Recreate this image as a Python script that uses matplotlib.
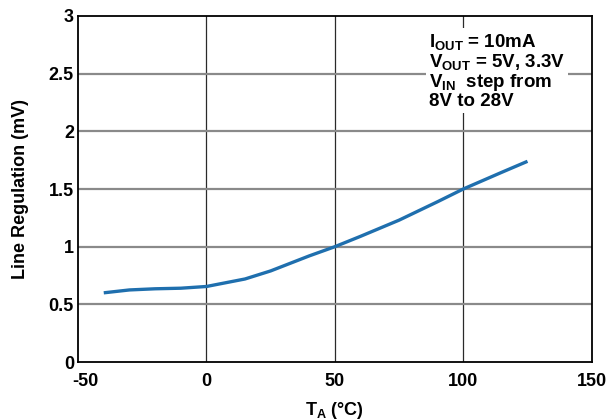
import matplotlib.pyplot as plt
import matplotlib.transforms as mtransforms

plt.rcParams['font.family'] = ['Liberation Sans', 'DejaVu Sans']
plt.rcParams['font.weight'] = 'bold'
plt.rcParams['axes.unicode_minus'] = False
plt.rcParams['mathtext.fontset'] = 'custom'
plt.rcParams['mathtext.rm'] = 'Liberation Sans:bold'
plt.rcParams['mathtext.it'] = 'Liberation Sans:bold'
plt.rcParams['mathtext.bf'] = 'Liberation Sans:bold'

# line regulation vs ambient temperature
temp = [-40, -30, -20, -10, 0, 15, 25, 40, 50, 60, 75, 90, 100, 115, 125]
line_reg = [0.60, 0.625, 0.635, 0.64, 0.655, 0.72, 0.79, 0.92, 1.0, 1.09, 1.23, 1.39, 1.50, 1.645, 1.74]

xticks = [-50, 0, 50, 100, 150]
yticks = [0, 0.5, 1, 1.5, 2, 2.5, 3]
ytick_labels = ['0', '0.5', '1', '1.5', '2', '2.5', '3']

fig = plt.figure(figsize=(6.1, 4.2), dpi=100)
ax = fig.add_axes([0.128, 0.138, 0.842, 0.824])

ax.plot(temp, line_reg, color='#1f6fae', lw=2.4, solid_capstyle='butt', zorder=3)

ax.set_xlim(-50, 150)
ax.set_ylim(0, 3)
ax.set_xticks(xticks)
ax.set_yticks(yticks)
ax.set_yticklabels(ytick_labels)
ax.tick_params(length=0, labelsize=13, pad=3)
ax.tick_params(axis='x', pad=8)
for lab in ax.get_xticklabels() + ax.get_yticklabels():
    lab.set_fontweight('bold')

# nudge the first x label away from the y "0"
first = ax.get_xticklabels()[0]
first.set_transform(first.get_transform() +
                    mtransforms.ScaledTranslation(7 / 100, 0, fig.dpi_scale_trans))

# vertical grid dark, horizontal grid grey
for x in xticks[1:-1]:
    ax.axvline(x, color='#2a2a2a', lw=0.9, zorder=1)
for y in yticks[1:-1]:
    ax.axhline(y, color='#8a8a8a', lw=1.6, zorder=1)

for sp in ax.spines.values():
    sp.set_color('black')
    sp.set_linewidth(1.3)

ax.set_xlabel(r'T$_{\rm A}$ (°C)', fontsize=13, fontweight='bold', labelpad=7)
ax.set_ylabel('Line Regulation (mV)', fontsize=13, fontweight='bold', labelpad=14)

note = ('I$_{\\rm OUT}$ = 10mA\n'
        'V$_{\\rm OUT}$ = 5V, 3.3V\n'
        'V$_{\\rm IN}$  step from\n'
        '8V to 28V')
ax.text(0.683, 0.955, note, transform=ax.transAxes, fontsize=13.5, fontweight='bold',
        va='top', ha='left', linespacing=1.02, zorder=4,
        bbox=dict(facecolor='white', edgecolor='none', pad=2))

fig.savefig('out.png', dpi=100)
